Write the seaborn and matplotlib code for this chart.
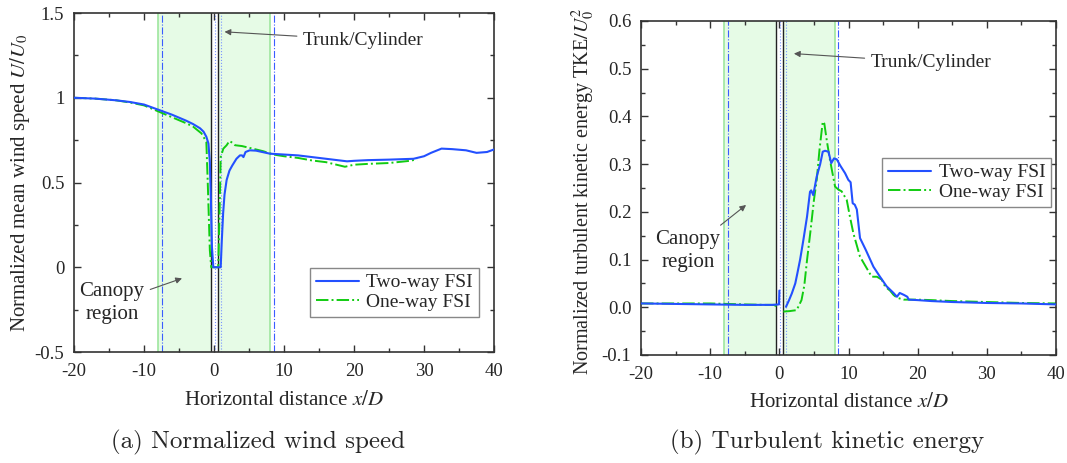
import numpy as np
import pandas as pd
import seaborn as sns
import matplotlib.pyplot as plt
from matplotlib.ticker import MultipleLocator, FormatStrFormatter

sns.set_style('ticks')
plt.rcParams['font.family'] = ['Liberation Serif', 'DejaVu Serif']
plt.rcParams['mathtext.fontset'] = 'stix'
plt.rcParams['axes.unicode_minus'] = False

# ---- data ----
# (a) normalized mean wind speed U/U0
x_u_two = [-20, -17, -14, -12, -10, -8, -6, -4, -3, -2, -1.5, -1.1, -0.8, -0.6, -0.45, -0.3,
           -0.1, 0.5, 0.95, 1.1, 1.3, 1.5, 1.8, 2.2, 2.6, 3.2, 3.7, 4.0, 4.2, 4.5, 5.1, 6, 8,
           10, 12, 14, 16, 18, 19, 20, 22, 25, 28.5, 30, 31, 32.5, 34, 36, 37.5, 39, 40]
u_two = [1.0, 0.995, 0.985, 0.975, 0.96, 0.93, 0.90, 0.865, 0.845, 0.82, 0.80, 0.77, 0.73,
         0.62, 0.40, 0.12, 0.0, 0.0, 0.0, 0.15, 0.32, 0.43, 0.515, 0.57, 0.60, 0.64, 0.66,
         0.66, 0.65, 0.68, 0.69, 0.688, 0.67, 0.665, 0.66, 0.65, 0.64, 0.63, 0.625, 0.628,
         0.632, 0.635, 0.64, 0.655, 0.675, 0.70, 0.697, 0.69, 0.675, 0.68, 0.695]

x_u_one = [-20, -17, -14, -12, -10, -8, -6, -4, -3, -1.8, -1.1, -0.9, -0.6, -0.4, 0.0, 0.6,
           0.8, 0.95, 1.33, 1.8, 2.2, 2.6, 3.0, 4.0, 5.0, 6.0, 7.0, 8.5, 10, 12, 14, 16, 18,
           18.7, 20, 22, 25, 28, 29]
u_one = [1.0, 0.995, 0.985, 0.972, 0.955, 0.92, 0.885, 0.85, 0.83, 0.79, 0.74, 0.50, 0.10,
         0.0, 0.0, 0.0, 0.35, 0.65, 0.70, 0.72, 0.745, 0.735, 0.72, 0.715, 0.705, 0.695,
         0.685, 0.665, 0.655, 0.645, 0.63, 0.62, 0.60, 0.593, 0.605, 0.61, 0.615, 0.628, 0.637]

# (b) normalized TKE/U0^2 (gap inside the trunk)
x_k_two_up = [-20, -15, -10, -5, -1, -0.05, 0.0]
k_two_up = [0.008, 0.007, 0.006, 0.005, 0.005, 0.006, 0.035]
x_k_two_dn = [0.96, 1.4, 1.8, 2.3, 2.6, 3.0, 3.47, 4.0, 4.43, 4.6, 4.9, 5.4, 5.9, 6.27, 6.6,
              7.1, 7.5, 7.9, 8.3, 8.8, 9.5, 9.97, 10.3, 10.6, 10.9, 11.2, 11.66, 12.5, 13.6,
              14.5, 15.5, 16.5, 17.0, 17.4, 18.0, 18.5, 18.7, 20, 22, 25, 30, 35, 40]
k_two_dn = [0.001, 0.015, 0.029, 0.05, 0.071, 0.10, 0.141, 0.19, 0.242, 0.245, 0.235, 0.274,
            0.30, 0.326, 0.328, 0.326, 0.302, 0.312, 0.31, 0.297, 0.281, 0.267, 0.262, 0.218,
            0.215, 0.205, 0.145, 0.12, 0.085, 0.065, 0.044, 0.03, 0.022, 0.03, 0.026, 0.022,
            0.016, 0.015, 0.013, 0.011, 0.009, 0.008, 0.006]

x_k_one_up = [-20, -15, -10, -5, -2, -1, -0.6, -0.45, -0.4]
k_one_up = [0.008, 0.008, 0.008, 0.006, 0.005, 0.005, 0.005, -0.003, -0.005]
x_k_one_dn = [0.57, 1.5, 2.5, 3.2, 3.6, 4.0, 4.5, 5.0, 5.4, 5.8, 6.27, 6.5, 6.85, 7.3, 8.05,
              8.5, 9.0, 9.74, 10.2, 10.7, 11.66, 12.5, 13.35, 14.1, 14.8, 15.3, 16.0, 16.5,
              17, 18, 20, 22, 25, 30, 35, 40]
k_one_dn = [-0.009, -0.008, -0.006, 0.015, 0.045, 0.099, 0.16, 0.225, 0.267, 0.33, 0.389,
            0.385, 0.35, 0.31, 0.253, 0.247, 0.243, 0.225, 0.19, 0.155, 0.106, 0.085, 0.064,
            0.064, 0.058, 0.043, 0.035, 0.026, 0.02, 0.016, 0.016, 0.015, 0.013, 0.011,
            0.009, 0.008]

# region markers
canopy_edges = [-8, 8]
trunk_edges = [-0.5, 0.5]
canopy_ref = [-7.5, 8.5]
trunk_ref = [0.1, 0.95]

blue = '#2350ff'
green = '#11cc11'

fig = plt.figure(figsize=(10.67, 4.63), dpi=100)
ax1 = fig.add_axes([0.0694, 0.2397, 0.3936, 0.7322])
ax2 = fig.add_axes([0.6008, 0.2333, 0.3889, 0.7214])


def regions(ax):
    ax.axvspan(canopy_edges[0], trunk_edges[0], color='#e6fbe6', lw=0, zorder=0)
    ax.axvspan(trunk_edges[1], canopy_edges[1], color='#e6fbe6', lw=0, zorder=0)
    for e in canopy_edges:
        ax.axvline(e, color='#9ee69e', lw=1.2, zorder=1)
    for e in trunk_edges:
        ax.axvline(e, color='#222222', lw=1.0, zorder=1)
    for e in canopy_ref:
        ax.axvline(e, color='#3a5cff', lw=0.8, ls='-.', zorder=1)
    for e in trunk_ref:
        ax.axvline(e, color='#7a95ff', lw=0.8, ls=':', zorder=1)


def style(ax):
    ax.tick_params(which='both', direction='in', top=True, right=True, labelsize=13.5,
                   color='#333333')
    ax.tick_params(axis='x', which='major', pad=8)
    ax.tick_params(axis='y', which='major', pad=7)
    ax.tick_params(which='major', length=5, width=1)
    ax.tick_params(which='minor', length=3, width=1)
    for s in ax.spines.values():
        s.set_color('#333333')
        s.set_linewidth(1.2)
    ax.xaxis.set_major_locator(MultipleLocator(10))
    ax.xaxis.set_minor_locator(MultipleLocator(5))


# ---- (a) ----
regions(ax1)
sns.lineplot(x=x_u_one, y=u_one, ax=ax1, color=green, lw=1.4, ls='-.', sort=False,
             label='One-way FSI', zorder=2)
sns.lineplot(x=x_u_two, y=u_two, ax=ax1, color=blue, lw=1.5, sort=False,
             label='Two-way FSI', zorder=3)
ax1.set_xlim(-20, 40)
ax1.set_ylim(-0.5, 1.5)
style(ax1)
ax1.yaxis.set_major_locator(MultipleLocator(0.5))
ax1.yaxis.set_minor_locator(MultipleLocator(0.25))
ax1.yaxis.set_major_formatter(FormatStrFormatter('%g'))
ax1.set_xlabel('Horizontal distance $x/D$', fontsize=15)
ax1.set_ylabel('Normalized mean wind speed $U/U_0$', fontsize=15)
ax1.xaxis.set_label_coords(0.5, -0.115)
ax1.yaxis.set_label_coords(-0.10, 0.5)
h, l = ax1.get_legend_handles_labels()
ax1.legend(h[::-1], l[::-1], loc='upper left', bbox_to_anchor=(0.562, 0.248),
           fontsize=14, frameon=True, fancybox=False, edgecolor='#888888',
           framealpha=1, handlelength=2.2, labelspacing=0.1, borderpad=0.3,
           handletextpad=0.4, borderaxespad=0)
ax1.annotate('Trunk/Cylinder', xy=(1.1, 1.39), xytext=(12.7, 1.34), fontsize=14,
             va='center', ha='left',
             arrowprops=dict(arrowstyle='-|>', color='#555555', lw=0.8, mutation_scale=9))
ax1.annotate('Canopy\nregion', xy=(-4.2, -0.06), xytext=(-14.6, -0.21), fontsize=15,
             va='center', ha='center', linespacing=1.25,
             arrowprops=dict(arrowstyle='-|>', color='#555555', lw=0.8, mutation_scale=9,
                             shrinkA=2))

# ---- (b) ----
regions(ax2)
sns.lineplot(x=x_k_one_up, y=k_one_up, ax=ax2, color=green, lw=1.4, ls='-.', sort=False,
             label='One-way FSI', zorder=2)
sns.lineplot(x=x_k_one_dn, y=k_one_dn, ax=ax2, color=green, lw=1.4, ls='-.', sort=False,
             zorder=2)
sns.lineplot(x=x_k_two_up, y=k_two_up, ax=ax2, color=blue, lw=1.5, sort=False,
             label='Two-way FSI', zorder=3)
sns.lineplot(x=x_k_two_dn, y=k_two_dn, ax=ax2, color=blue, lw=1.5, sort=False, zorder=3)
ax2.set_xlim(-20, 40)
ax2.set_ylim(-0.1, 0.6)
style(ax2)
ax2.yaxis.set_major_locator(MultipleLocator(0.1))
ax2.yaxis.set_minor_locator(MultipleLocator(0.05))
ax2.yaxis.set_major_formatter(FormatStrFormatter('%.1f'))
ax2.set_xlabel('Horizontal distance $x/D$', fontsize=15)
ax2.set_ylabel('Normalized turbulent kinetic energy TKE$/U_0^2$', fontsize=14.5)
ax2.xaxis.set_label_coords(0.5, -0.115)
ax2.yaxis.set_label_coords(-0.105, 0.49)
h, l = ax2.get_legend_handles_labels()
ax2.legend(h[::-1], l[::-1], loc='upper left', bbox_to_anchor=(0.581, 0.59),
           fontsize=14, frameon=True, fancybox=False, edgecolor='#888888',
           framealpha=1, handlelength=2.2, labelspacing=0.1, borderpad=0.3,
           handletextpad=0.4, borderaxespad=0)
ax2.annotate('Trunk/Cylinder', xy=(1.7, 0.532), xytext=(13.2, 0.513), fontsize=14,
             va='center', ha='left',
             arrowprops=dict(arrowstyle='-|>', color='#555555', lw=0.8, mutation_scale=9))
ax2.annotate('Canopy\nregion', xy=(-4.5, 0.218), xytext=(-13.2, 0.118), fontsize=15,
             va='center', ha='center', linespacing=1.25,
             arrowprops=dict(arrowstyle='-|>', color='#555555', lw=0.8, mutation_scale=9,
                             shrinkA=2))

# captions
fig.text(258 / 1067, 1 - 442 / 463, '(a) Normalized wind speed', family=['cmr10'],
         fontsize=18, ha='center', va='center')
fig.text(827 / 1067, 1 - 442 / 463, '(b) Turbulent kinetic energy', family=['cmr10'],
         fontsize=18, ha='center', va='center')

fig.savefig('out.png', dpi=100)
